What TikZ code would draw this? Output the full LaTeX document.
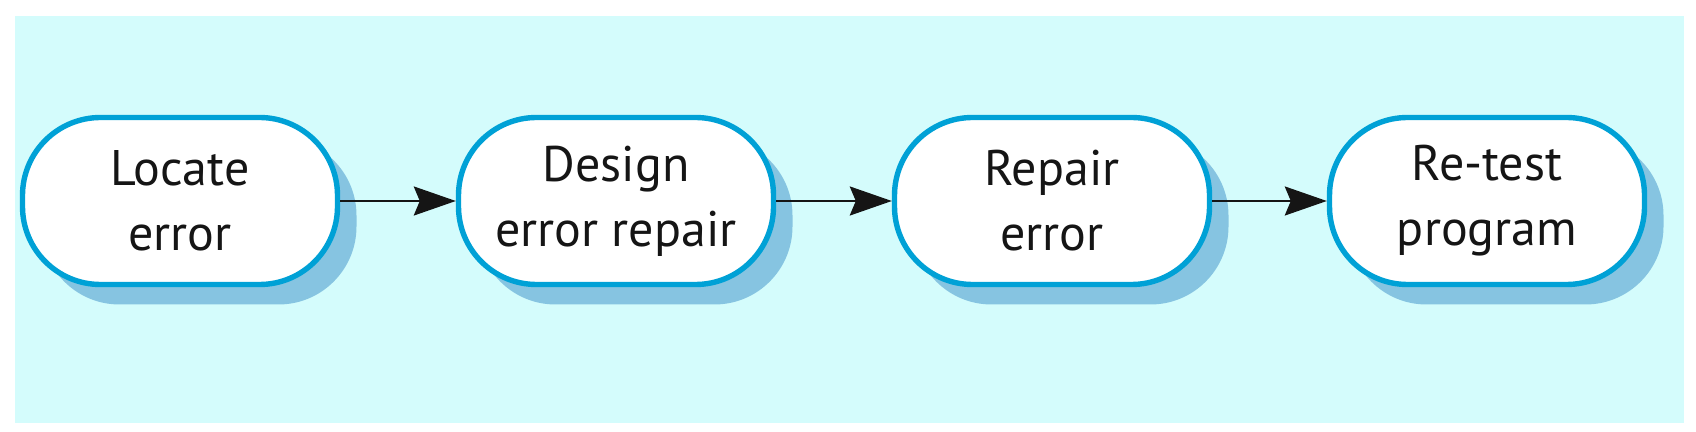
\documentclass[tikz,border=0pt]{standalone}
\usepackage{fontspec}
\setmainfont{PT Sans}
\usetikzlibrary{arrows.meta,shadows}
\definecolor{bgc}{HTML}{D4FCFC}
\definecolor{edgec}{HTML}{00A1D6}
\definecolor{shadc}{HTML}{86C4E1}
\definecolor{txtc}{HTML}{151515}
\tikzset{
  stepbox/.style={draw=edgec, line width=2.7pt, fill=white, rounded corners=39pt,
    minimum width=157.5pt, minimum height=83.5pt, inner sep=0pt, align=center,
    text=txtc, font=\fontsize{25}{32.5}\selectfont,
    drop shadow={shadow xshift=9.5pt, shadow yshift=-10pt, fill=shadc, opacity=1, draw=none}},
  flow/.style={line width=1.2pt, draw=txtc, -{Stealth[length=21pt, width=14.5pt, inset=3pt]}}
}
\begin{document}
\begin{tikzpicture}[x=0.5pt,y=-0.5pt]
\useasboundingbox (0,0) rectangle (1696,432);
\fill[bgc] (15,16) rectangle (1684,423);
\node[stepbox] (a) at (180,201) {Locate\\error};
\node[stepbox] (b) at (616,201) {Design\\error repair};
\node[stepbox] (c) at (1052,201) {Repair\\error};
\node[stepbox] (d) at (1487,201) {Re-test\\program};
\draw[flow] (a.east) -- (b.west);
\draw[flow] (b.east) -- (c.west);
\draw[flow] (c.east) -- (d.west);
\end{tikzpicture}
\end{document}
